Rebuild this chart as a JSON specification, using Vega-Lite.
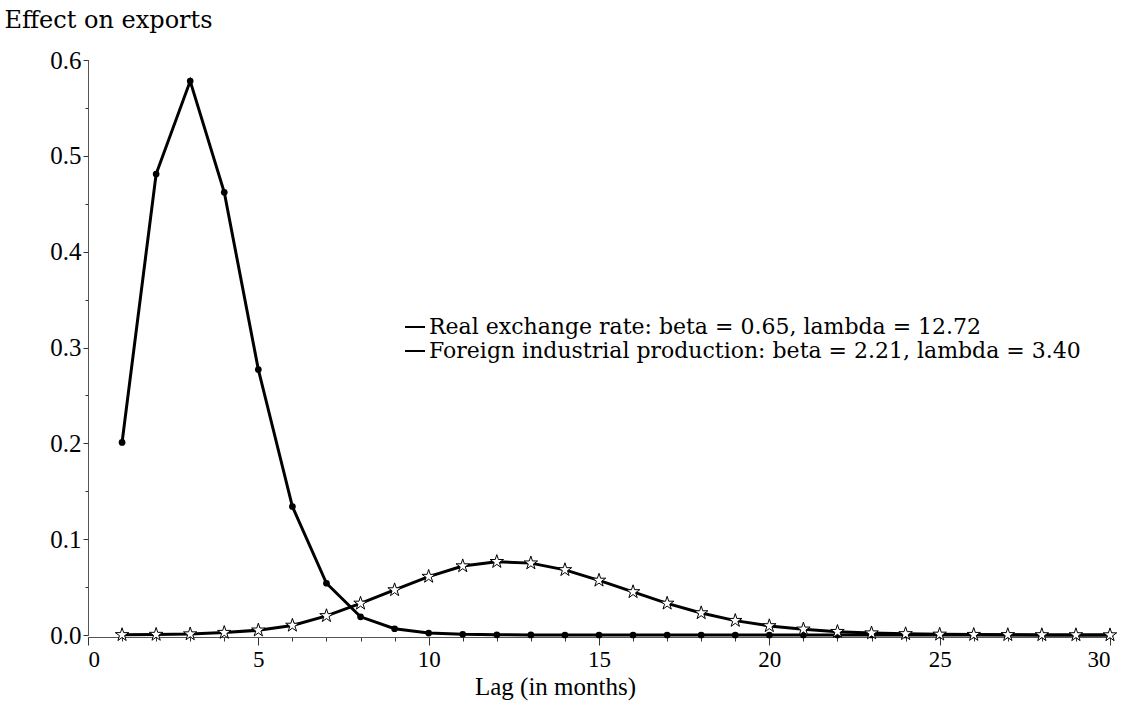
{
  "$schema": "https://vega.github.io/schema/vega-lite/v6.json",
  "width": 1022,
  "height": 575,
  "autosize": "none",
  "padding": {"left": 88, "top": 60, "right": 23, "bottom": 89},
  "background": "white",
  "config": {
    "view": {"stroke": null},
    "font": "Liberation Serif",
    "axis": {"grid": false, "domainColor": "#555555", "tickColor": "#333333", "labelFont": "Liberation Serif", "titleFont": "Liberation Serif", "labelColor": "black", "titleColor": "black", "labelFontSize": 25, "titleFontSize": 25, "titleFontWeight": "normal"},
    "legend": {"labelFont": "DejaVu Serif", "labelFontSize": 22, "labelColor": "black", "labelLimit": 0}
  },
  "data": {
    "values": [
      {"lag": 1, "series": "Foreign industrial production: beta = 2.21, lambda = 3.40", "effect": 0.201},
      {"lag": 2, "series": "Foreign industrial production: beta = 2.21, lambda = 3.40", "effect": 0.481},
      {"lag": 3, "series": "Foreign industrial production: beta = 2.21, lambda = 3.40", "effect": 0.578},
      {"lag": 4, "series": "Foreign industrial production: beta = 2.21, lambda = 3.40", "effect": 0.462},
      {"lag": 5, "series": "Foreign industrial production: beta = 2.21, lambda = 3.40", "effect": 0.277},
      {"lag": 6, "series": "Foreign industrial production: beta = 2.21, lambda = 3.40", "effect": 0.134},
      {"lag": 7, "series": "Foreign industrial production: beta = 2.21, lambda = 3.40", "effect": 0.054},
      {"lag": 8, "series": "Foreign industrial production: beta = 2.21, lambda = 3.40", "effect": 0.019},
      {"lag": 9, "series": "Foreign industrial production: beta = 2.21, lambda = 3.40", "effect": 0.0065},
      {"lag": 10, "series": "Foreign industrial production: beta = 2.21, lambda = 3.40", "effect": 0.002},
      {"lag": 11, "series": "Foreign industrial production: beta = 2.21, lambda = 3.40", "effect": 0.0007},
      {"lag": 12, "series": "Foreign industrial production: beta = 2.21, lambda = 3.40", "effect": 0.0002},
      {"lag": 13, "series": "Foreign industrial production: beta = 2.21, lambda = 3.40", "effect": 0.0001},
      {"lag": 14, "series": "Foreign industrial production: beta = 2.21, lambda = 3.40", "effect": 0},
      {"lag": 15, "series": "Foreign industrial production: beta = 2.21, lambda = 3.40", "effect": 0},
      {"lag": 16, "series": "Foreign industrial production: beta = 2.21, lambda = 3.40", "effect": 0},
      {"lag": 17, "series": "Foreign industrial production: beta = 2.21, lambda = 3.40", "effect": 0},
      {"lag": 18, "series": "Foreign industrial production: beta = 2.21, lambda = 3.40", "effect": 0},
      {"lag": 19, "series": "Foreign industrial production: beta = 2.21, lambda = 3.40", "effect": 0},
      {"lag": 20, "series": "Foreign industrial production: beta = 2.21, lambda = 3.40", "effect": 0},
      {"lag": 21, "series": "Foreign industrial production: beta = 2.21, lambda = 3.40", "effect": 0},
      {"lag": 22, "series": "Foreign industrial production: beta = 2.21, lambda = 3.40", "effect": 0},
      {"lag": 23, "series": "Foreign industrial production: beta = 2.21, lambda = 3.40", "effect": 0},
      {"lag": 24, "series": "Foreign industrial production: beta = 2.21, lambda = 3.40", "effect": 0},
      {"lag": 25, "series": "Foreign industrial production: beta = 2.21, lambda = 3.40", "effect": 0},
      {"lag": 26, "series": "Foreign industrial production: beta = 2.21, lambda = 3.40", "effect": 0},
      {"lag": 27, "series": "Foreign industrial production: beta = 2.21, lambda = 3.40", "effect": 0},
      {"lag": 28, "series": "Foreign industrial production: beta = 2.21, lambda = 3.40", "effect": 0},
      {"lag": 29, "series": "Foreign industrial production: beta = 2.21, lambda = 3.40", "effect": 0},
      {"lag": 30, "series": "Foreign industrial production: beta = 2.21, lambda = 3.40", "effect": 0},
      {"lag": 1, "series": "Real exchange rate: beta = 0.65, lambda = 12.72", "effect": 0.0002},
      {"lag": 2, "series": "Real exchange rate: beta = 0.65, lambda = 12.72", "effect": 0.0005},
      {"lag": 3, "series": "Real exchange rate: beta = 0.65, lambda = 12.72", "effect": 0.001},
      {"lag": 4, "series": "Real exchange rate: beta = 0.65, lambda = 12.72", "effect": 0.0025},
      {"lag": 5, "series": "Real exchange rate: beta = 0.65, lambda = 12.72", "effect": 0.005},
      {"lag": 6, "series": "Real exchange rate: beta = 0.65, lambda = 12.72", "effect": 0.010},
      {"lag": 7, "series": "Real exchange rate: beta = 0.65, lambda = 12.72", "effect": 0.020},
      {"lag": 8, "series": "Real exchange rate: beta = 0.65, lambda = 12.72", "effect": 0.033},
      {"lag": 9, "series": "Real exchange rate: beta = 0.65, lambda = 12.72", "effect": 0.047},
      {"lag": 10, "series": "Real exchange rate: beta = 0.65, lambda = 12.72", "effect": 0.061},
      {"lag": 11, "series": "Real exchange rate: beta = 0.65, lambda = 12.72", "effect": 0.072},
      {"lag": 12, "series": "Real exchange rate: beta = 0.65, lambda = 12.72", "effect": 0.0765},
      {"lag": 13, "series": "Real exchange rate: beta = 0.65, lambda = 12.72", "effect": 0.075},
      {"lag": 14, "series": "Real exchange rate: beta = 0.65, lambda = 12.72", "effect": 0.068},
      {"lag": 15, "series": "Real exchange rate: beta = 0.65, lambda = 12.72", "effect": 0.057},
      {"lag": 16, "series": "Real exchange rate: beta = 0.65, lambda = 12.72", "effect": 0.045},
      {"lag": 17, "series": "Real exchange rate: beta = 0.65, lambda = 12.72", "effect": 0.033},
      {"lag": 18, "series": "Real exchange rate: beta = 0.65, lambda = 12.72", "effect": 0.023},
      {"lag": 19, "series": "Real exchange rate: beta = 0.65, lambda = 12.72", "effect": 0.015},
      {"lag": 20, "series": "Real exchange rate: beta = 0.65, lambda = 12.72", "effect": 0.0095},
      {"lag": 21, "series": "Real exchange rate: beta = 0.65, lambda = 12.72", "effect": 0.006},
      {"lag": 22, "series": "Real exchange rate: beta = 0.65, lambda = 12.72", "effect": 0.0035},
      {"lag": 23, "series": "Real exchange rate: beta = 0.65, lambda = 12.72", "effect": 0.002},
      {"lag": 24, "series": "Real exchange rate: beta = 0.65, lambda = 12.72", "effect": 0.0012},
      {"lag": 25, "series": "Real exchange rate: beta = 0.65, lambda = 12.72", "effect": 0.0007},
      {"lag": 26, "series": "Real exchange rate: beta = 0.65, lambda = 12.72", "effect": 0.0004},
      {"lag": 27, "series": "Real exchange rate: beta = 0.65, lambda = 12.72", "effect": 0.0002},
      {"lag": 28, "series": "Real exchange rate: beta = 0.65, lambda = 12.72", "effect": 0.0001},
      {"lag": 29, "series": "Real exchange rate: beta = 0.65, lambda = 12.72", "effect": 0.0001},
      {"lag": 30, "series": "Real exchange rate: beta = 0.65, lambda = 12.72", "effect": 0}
    ]
  },
  "layer": [
    {
      "mark": {"type": "line", "strokeWidth": 3, "clip": false},
      "encoding": {
        "x": {"field": "lag", "type": "quantitative", "scale": {"domain": [0, 30], "nice": false},
          "axis": {"orient": "bottom", "values": [0,1,2,3,4,5,6,7,8,9,10,11,12,13,14,15,16,17,18,19,20,21,22,23,24,25,26,27,28,29,30], "labels": false, "title": null, "tickSize": 4, "domain": true, "offset": 2}},
        "y": {"field": "effect", "type": "quantitative", "scale": {"domain": [0, 0.6], "nice": false},
          "axis": {"orient": "left", "values": [0,0.05,0.1,0.15,0.2,0.25,0.3,0.35,0.4,0.45,0.5,0.55,0.6], "labels": false, "title": null, "tickSize": 3, "domain": true}},
        "color": {"field": "series", "type": "nominal",
          "scale": {"domain": ["Real exchange rate: beta = 0.65, lambda = 12.72", "Foreign industrial production: beta = 2.21, lambda = 3.40"], "range": ["black", "black"]},
          "legend": {"orient": "none", "legendX": 316, "legendY": 256, "title": null, "symbolType": "stroke", "symbolStrokeWidth": 2, "symbolSize": 400, "rowPadding": 2, "labelOffset": 3}},
        "detail": {"field": "series"}
      }
    },
    {
      "transform": [{"filter": "datum.series == 'Foreign industrial production: beta = 2.21, lambda = 3.40'"}],
      "mark": {"type": "point", "shape": "circle", "filled": true, "color": "black", "size": 45, "opacity": 1},
      "encoding": {
        "x": {"field": "lag", "type": "quantitative",
          "axis": {"orient": "bottom", "values": [0,5,10,15,20,25,30], "labels": true, "format": "d", "labelFontSize": 23, "title": "Lag (in months)", "tickSize": 8, "offset": 2, "labelPadding": 3, "domain": false, "titleX": 467, "titleY": 49, "titleAlign": "center", "titleBaseline": "middle"}},
        "y": {"field": "effect", "type": "quantitative",
          "axis": {"orient": "left", "values": [0,0.1,0.2,0.3,0.4,0.5,0.6], "format": ".1f", "tickSize": 5, "labelPadding": 2, "domain": false, "title": "Effect on exports", "titleFont": "DejaVu Serif", "titleFontSize": 24, "titleAngle": 0, "titleAlign": "left", "titleBaseline": "middle", "titleX": -84, "titleY": -40}}
      }
    },
    {
      "transform": [{"filter": "datum.series == 'Real exchange rate: beta = 0.65, lambda = 12.72'"}],
      "mark": {"type": "point", "shape": "M0,-1L0.2245,-0.309L0.951,-0.309L0.363,0.118L0.588,0.809L0,0.382L-0.588,0.809L-0.363,0.118L-0.951,-0.309L-0.2245,-0.309Z", "filled": true, "fill": "white", "stroke": "black", "strokeWidth": 1, "size": 200, "opacity": 1},
      "encoding": {
        "x": {"field": "lag", "type": "quantitative", "axis": null},
        "y": {"field": "effect", "type": "quantitative", "axis": null}
      }
    }
  ],
  "resolve": {"axis": {"x": "independent", "y": "independent"}}
}
